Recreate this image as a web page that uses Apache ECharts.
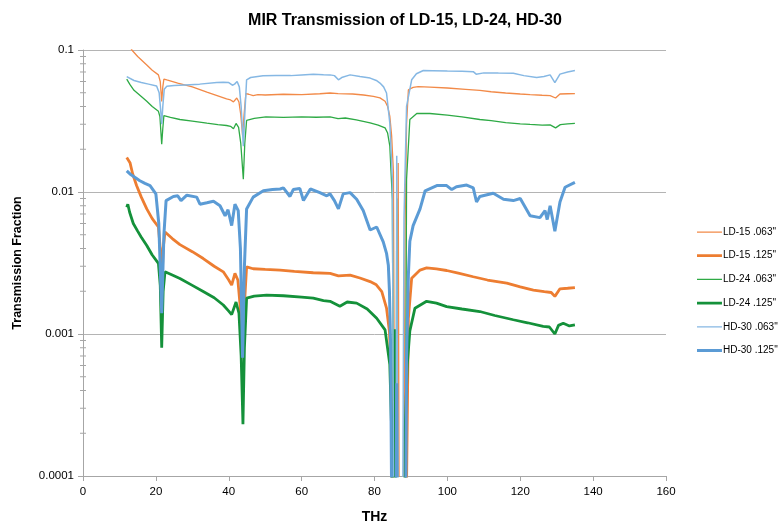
<!DOCTYPE html>
<html>
<head>
<meta charset="utf-8">
<script src="https://cdn.jsdelivr.net/npm/echarts@6/dist/echarts.min.js"></script>
<style>html,body{margin:0;padding:0;background:#fff;}#chart{width:784px;height:529px;}</style>
</head>
<body>
<div id="chart"></div>
<script>
const TITLE = 'MIR Transmission of LD-15, LD-24, HD-30';
const X_NAME = 'THz';
const Y_NAME = 'Transmission Fraction';
const X_TICKS = [0, 20, 40, 60, 80, 100, 120, 140, 160];
const Y_TICKS = [0.0001, 0.001, 0.01, 0.1];
const Y_MINOR = [0.0002,0.0003,0.0004,0.0005,0.0006,0.0007,0.0008,0.0009,
                 0.002,0.003,0.004,0.005,0.006,0.007,0.008,0.009,
                 0.02,0.03,0.04,0.05,0.06,0.07,0.08,0.09];
const SERIES_NAMES = ['LD-15 .063"', 'LD-15 .125"', 'LD-24 .063"', 'LD-24 .125"', 'HD-30 .063"', 'HD-30 .125"'];

const LD15_063 = [[12,0.118],[13.4,0.100],[15,0.090],[17.5,0.0785],[19,0.072],[20.7,0.0668],[21.2,0.060],[21.6,0.0435],[21.9,0.055],[22.2,0.0624],[23,0.0615],[26,0.0585],[30,0.055],[34,0.0505],[37,0.0475],[39.4,0.0452],[40.5,0.0445],[41.3,0.0431],[42.2,0.0459],[42.8,0.043],[43.3,0.035],[43.8,0.025],[44.2,0.035],[44.7,0.0493],[45.5,0.0488],[46.7,0.0477],[48,0.0485],[50,0.0482],[55,0.0488],[60,0.0485],[65,0.0492],[67.8,0.0498],[70,0.0493],[74,0.0490],[77,0.0482],[79.7,0.0472],[81.5,0.046],[82.9,0.0435],[83.6,0.040],[84.2,0.0342],[84.7,0.025],[85.2,0.0138],[85.6,0.00003],[86.2,0.00003],[86.5,0.016],[86.8,0.00003],[88.0,0.00003],[88.4,0.006],[88.8,0.03],[89.3,0.0525],[90.6,0.0545],[92,0.0552],[95.2,0.0548],[100,0.054],[105,0.0528],[108.9,0.0519],[112,0.0508],[116,0.0498],[120,0.049],[122.7,0.0485],[126,0.048],[128.2,0.0477],[129.7,0.0459],[130.9,0.049],[133,0.0492],[135,0.0493]];

const LD15_125 = [[12,0.0175],[12.9,0.0161],[13.6,0.0135],[14.7,0.0111],[16,0.0092],[17.5,0.0076],[19,0.0065],[20.7,0.00567],[21.2,0.004],[21.6,0.002],[22.0,0.004],[22.5,0.00523],[24.5,0.0047],[26.6,0.00426],[30,0.0038],[33,0.0034],[36,0.0030],[38.5,0.00274],[40,0.0024],[40.8,0.00221],[41.7,0.00267],[42.5,0.0024],[43.2,0.0015],[43.8,0.0008],[44.3,0.0016],[44.9,0.00297],[46.7,0.00288],[50,0.00285],[54.1,0.00282],[58,0.00276],[63.2,0.0027],[67.8,0.00267],[70.1,0.00257],[73.3,0.0026],[76,0.00248],[78.8,0.00234],[80.5,0.00222],[82.0,0.00199],[83.3,0.00152],[84.1,0.00104],[84.6,0.0005],[85.0,0.00003],[88.6,0.00003],[89.3,0.00129],[90.2,0.00247],[92.5,0.00282],[94.3,0.00292],[97,0.00287],[99.8,0.0028],[103,0.00268],[107.1,0.00253],[111,0.0024],[116.3,0.00228],[120,0.00215],[123.6,0.00204],[126.6,0.00199],[128.5,0.00196],[129.5,0.00184],[130.9,0.00208],[133,0.0021],[135,0.00212]];

const LD24_063 = [[12,0.0624],[12.9,0.057],[14,0.052],[16,0.047],[17.5,0.0435],[19,0.040],[20.7,0.037],[21.1,0.034],[21.6,0.0217],[21.9,0.028],[22.2,0.0345],[24,0.0335],[26.6,0.0324],[30,0.0316],[34,0.0305],[37,0.0298],[39.4,0.0294],[40.5,0.0290],[41.3,0.0279],[42,0.0304],[42.7,0.0285],[43.3,0.022],[44.0,0.0123],[44.4,0.022],[44.9,0.0319],[47,0.0330],[50.2,0.0338],[55,0.0335],[60,0.0338],[64,0.0336],[67.8,0.0338],[70,0.0329],[72,0.0332],[75,0.0322],[78.8,0.0307],[81,0.0296],[82.9,0.0283],[83.6,0.026],[84.2,0.0211],[84.9,0.0089],[85.3,0.00003],[85.9,0.00003],[86.1,0.009],[86.4,0.00003],[88.4,0.00003],[88.8,0.0123],[89.7,0.0324],[91.6,0.0357],[95.2,0.0357],[100,0.0348],[104,0.0338],[108.9,0.0324],[112,0.0318],[116,0.0308],[120,0.0302],[122.7,0.0299],[126,0.0296],[128.2,0.0297],[129.7,0.0283],[131,0.0298],[133,0.0302],[135,0.0304]];

const LD24_125 = [[12,0.0078],[12.3,0.0082],[12.8,0.0072],[13.8,0.006],[15,0.0053],[16,0.0048],[17.5,0.0042],[19,0.0036],[20.7,0.00314],[21.2,0.0022],[21.6,0.0008],[22.0,0.002],[22.5,0.00274],[24.5,0.0026],[26.6,0.00246],[30,0.0022],[33,0.00199],[36,0.0018],[38.5,0.0016],[40,0.00145],[40.8,0.00137],[42,0.00168],[42.8,0.0014],[43.4,0.0007],[43.9,0.000232],[44.3,0.0008],[44.9,0.00179],[47,0.00185],[50.4,0.00188],[55,0.00186],[60,0.00182],[63.2,0.00179],[66,0.00172],[67.8,0.0017],[70.5,0.00157],[72.5,0.00168],[75.1,0.00165],[78,0.0015],[80.6,0.00129],[82.9,0.00107],[84.2,0.00061],[84.7,0.00021],[85.0,0.00003],[85.4,0.00003],[85.6,0.00108],[85.8,0.00003],[88.3,0.00003],[88.4,0.00021],[89.0,0.00061],[89.7,0.00105],[91.1,0.00152],[94.3,0.0017],[97,0.00165],[99.8,0.00156],[104,0.0015],[108.9,0.00144],[113,0.00135],[118.1,0.00126],[122,0.0012],[126.3,0.00113],[128,0.00112],[129.5,0.001],[130.5,0.00115],[131.8,0.00119],[133.5,0.00114],[135,0.00116]];

const HD30_063 = [[12,0.065],[12.5,0.0635],[14,0.061],[16,0.059],[18,0.0575],[20.2,0.0558],[20.9,0.050],[21.3,0.038],[21.6,0.030],[21.9,0.040],[22.3,0.053],[23,0.0556],[25,0.0562],[28,0.0568],[32,0.0575],[36.7,0.059],[38.5,0.0592],[40,0.059],[41.0,0.0565],[41.6,0.0575],[42.3,0.060],[42.9,0.055],[43.4,0.040],[44.0,0.021],[44.4,0.035],[44.9,0.0617],[46,0.0640],[49.4,0.0658],[53,0.0662],[57,0.066],[60,0.0668],[63.2,0.0676],[66,0.067],[67.8,0.0668],[69,0.066],[70.1,0.0617],[71,0.064],[73.3,0.0668],[76,0.065],[78.8,0.0634],[80.5,0.061],[81.5,0.0585],[82.5,0.055],[83.3,0.0498],[84.2,0.0307],[84.9,0.0123],[85.3,0.00003],[85.9,0.00003],[86.1,0.018],[86.4,0.00003],[87.7,0.00003],[88.1,0.0065],[88.8,0.0401],[90.2,0.0617],[91.5,0.068],[93.4,0.0717],[96,0.0715],[100,0.0710],[104,0.0708],[107.1,0.0704],[107.9,0.0676],[110,0.0690],[114,0.0688],[118.1,0.0687],[121,0.066],[124.5,0.0640],[126.5,0.0650],[128.2,0.0668],[129.5,0.059],[130.9,0.0676],[133,0.070],[135,0.0717]];

const HD30_125 = [[12,0.0141],[12.9,0.0134],[14,0.0128],[15.6,0.012],[17,0.0115],[18.4,0.0111],[20,0.0097],[20.8,0.006],[21.6,0.0014],[22.2,0.005],[22.8,0.0087],[24.8,0.0093],[26,0.0094],[26.9,0.0087],[28.5,0.0095],[31.2,0.0092],[32.1,0.0082],[34,0.0084],[35.8,0.0086],[37.6,0.008],[39,0.0068],[39.8,0.0075],[40.8,0.0058],[41.7,0.0082],[42.6,0.0074],[43.2,0.004],[43.8,0.00068],[44.3,0.003],[44.9,0.0076],[46.7,0.0092],[49.5,0.0102],[52,0.0104],[54.1,0.0105],[55,0.0107],[56.8,0.0093],[57.7,0.0104],[59.5,0.0106],[60.5,0.0087],[62.4,0.0105],[65,0.0099],[66.9,0.0094],[67.8,0.0097],[69,0.0087],[70.1,0.0076],[71.4,0.0097],[73.3,0.0099],[75.1,0.0089],[76.9,0.0074],[78.8,0.0054],[80.6,0.00567],[82.4,0.00445],[83.3,0.0037],[83.8,0.00305],[84.1,0.002],[84.4,0.00089],[84.8,0.00003],[85.9,0.00003],[86.1,0.00045],[86.3,0.00003],[88.5,0.00003],[88.8,0.00068],[89.3,0.0026],[89.7,0.0045],[90.6,0.0058],[92.5,0.0076],[93.9,0.0102],[97.1,0.0111],[99.8,0.0111],[101.2,0.0104],[102.5,0.0109],[105.3,0.0112],[107.1,0.0107],[108,0.0085],[108.9,0.0093],[112.6,0.0098],[115.4,0.0089],[118.1,0.0087],[120,0.009],[122.7,0.0068],[125.4,0.0066],[126.8,0.0074],[127.4,0.0064],[128.2,0.008],[129.5,0.0053],[130.9,0.0085],[132.3,0.0108],[135,0.0117]];

const COLORS = ['#F28A48', '#ED7D31', '#2EAA45', '#14913A', '#86B8E4', '#5B9BD5'];
const WIDTHS = [1.3, 2.8, 1.3, 2.8, 1.5, 3];
const DATA = [LD15_063, LD15_125, LD24_063, LD24_125, HD30_063, HD30_125];

// legend icons: a 25x10 box holding a bar as thick as the series line
const ICON_THIN = 'path://M0,0L0,0.01M25,10L25,10.01M0,4.4h25v1.3h-25z';
const ICON_THICK = 'path://M0,0L0,0.01M25,10L25,10.01M0,3.6h25v2.8h-25z';

const chart = echarts.init(document.getElementById('chart'), null, {renderer: 'canvas'});
const lineSeries = SERIES_NAMES.map((n, i) => ({
  name: n,
  type: 'line',
  data: DATA[i],
  symbol: 'none',
  showSymbol: false,
  clip: true,
  silent: true,
  animation: false,
  lineStyle: {color: COLORS[i], width: WIDTHS[i]},
  itemStyle: {color: COLORS[i]},
  z: 2 + i
}));

const minorTicks = {
  type: 'custom',
  name: 'minor',
  data: Y_MINOR.map(v => [X_TICKS[0], v]),
  silent: true,
  animation: false,
  z: 1,
  renderItem: (params, api) => {
    const p = api.coord([api.value(0), api.value(1)]);
    return {type: 'line', shape: {x1: p[0] - 3, y1: p[1], x2: p[0] + 3, y2: p[1]}, style: {stroke: '#a6a6a6', lineWidth: 1}};
  }
};

chart.setOption({
  animation: false,
  backgroundColor: '#fff',
  title: {
    text: TITLE, left: 400, top: 8, textAlign: 'center',
    textStyle: {fontFamily: "'Liberation Sans', sans-serif", fontWeight: 'bold', fontSize: 16, color: '#000'}
  },
  legend: {
    orient: 'vertical', left: 697, top: 227, padding: 0,
    data: SERIES_NAMES.map((n, i) => ({name: n, icon: WIDTHS[i] > 2 ? ICON_THICK : ICON_THIN})),
    itemWidth: 25, itemHeight: 10, itemGap: 13.7,
    itemStyle: {borderWidth: 0},
    textStyle: {fontFamily: "'Liberation Sans', sans-serif", fontSize: 10, color: '#000', padding: [0, 0, 0, -4]},
    selectedMode: false
  },
  grid: {left: 83, right: 118, top: 50, bottom: 50, containLabel: false},
  xAxis: {
    type: 'value', min: 0, max: 160, interval: 20,
    name: X_NAME, nameLocation: 'middle', nameGap: 34,
    nameTextStyle: {fontFamily: "'Liberation Sans', sans-serif", fontWeight: 'bold', fontSize: 14, color: '#000'},
    axisLine: {show: true, onZero: false, lineStyle: {color: '#a6a6a6', width: 1}},
    axisTick: {show: true, length: 5, lineStyle: {color: '#a6a6a6'}},
    axisLabel: {fontFamily: "'Liberation Sans', sans-serif", fontSize: 11.5, color: '#000', margin: 10},
    splitLine: {show: false}
  },
  yAxis: {
    type: 'log', logBase: 10, min: Y_TICKS[0], max: Y_TICKS[Y_TICKS.length - 1],
    name: Y_NAME, nameLocation: 'middle', nameGap: 59,
    nameTextStyle: {fontFamily: "'Liberation Sans', sans-serif", fontWeight: 'bold', fontSize: 12.5, color: '#000'},
    axisLine: {show: true, lineStyle: {color: '#a6a6a6', width: 1}},
    axisTick: {show: true, length: 5, lineStyle: {color: '#a6a6a6'}},
    axisLabel: {fontFamily: "'Liberation Sans', sans-serif", fontSize: 11.5, color: '#000', margin: 9,
      formatter: v => String(+Number(v).toPrecision(1))},
    splitLine: {show: true, lineStyle: {color: '#b4b4b4', width: 1}}
  },
  series: [minorTicks].concat(lineSeries)
});
</script>
</body>
</html>
